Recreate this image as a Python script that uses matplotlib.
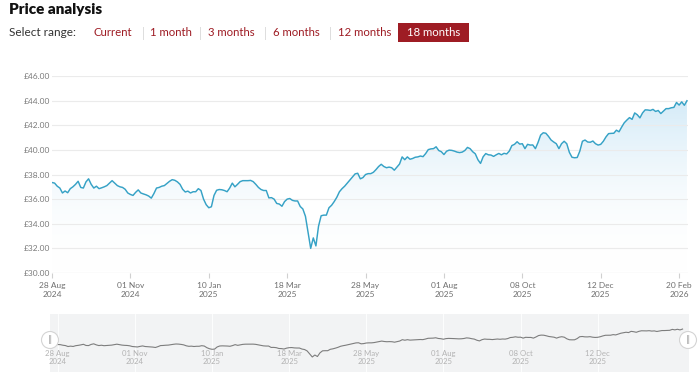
import numpy as np
import matplotlib
matplotlib.use('Agg')
import matplotlib.pyplot as plt
from matplotlib.ticker import FuncFormatter
from matplotlib.colors import LinearSegmentedColormap
from matplotlib.patches import Rectangle, Circle
from matplotlib.transforms import IdentityTransform

# closing price, one value per sample (30 samples between labelled dates)
prices = [
    37.35, 37.3, 37.05, 36.9, 36.5, 36.66, 36.52, 36.85, 37.0, 37.2,
    37.45, 36.95, 36.9, 37.4, 37.65, 37.2, 36.9, 37.05, 36.85, 36.92,
    37.0, 37.1, 37.3, 37.5, 37.3, 37.1, 37.0, 36.95, 36.8, 36.5,
    36.38, 36.3, 36.55, 36.75, 36.5, 36.42, 36.35, 36.25, 36.08, 36.45,
    36.9, 36.95, 37.05, 37.1, 37.28, 37.45, 37.58, 37.53, 37.4, 37.2,
    36.8, 36.58, 36.65, 36.5, 36.6, 36.6, 36.85, 36.7, 36.0, 35.55,
    35.3, 35.38, 36.3, 36.72, 36.78, 36.76, 36.7, 36.6, 36.9, 37.3,
    37.0, 37.2, 37.42, 37.5, 37.5, 37.5, 37.52, 37.42, 37.2, 36.95,
    36.78, 36.7, 36.7, 36.1, 36.12, 36.0, 35.65, 35.6, 35.42, 35.8,
    36.0, 36.05, 35.9, 35.85, 35.85, 35.4, 35.2, 34.6, 33.3, 32.0,
    32.85, 32.2, 33.8, 34.65, 34.7, 34.7, 35.3, 35.5, 35.8, 36.15,
    36.6, 36.85, 37.05, 37.3, 37.55, 37.8, 38.05, 38.1, 37.65, 37.75,
    38.0, 38.07, 38.07, 38.18, 38.4, 38.65, 38.83, 38.65, 38.55, 38.6,
    38.55, 38.35, 38.6, 38.85, 39.43, 39.2, 39.43, 39.24, 39.3, 39.4,
    39.43, 39.5, 39.45, 39.7, 40.02, 40.08, 40.1, 40.25, 39.95, 39.85,
    39.62, 39.89, 39.98, 39.96, 39.9, 39.82, 39.78, 39.82, 39.95, 40.2,
    40.1, 39.85, 39.68, 39.2, 38.9, 39.44, 39.7, 39.6, 39.58, 39.47,
    39.6, 39.71, 39.6, 39.72, 39.67, 39.9, 40.35, 40.45, 40.66, 40.47,
    40.5, 40.1, 40.45, 40.39, 40.4, 40.1, 40.6, 41.2, 41.39, 41.35,
    41.1, 40.8, 40.64, 40.5, 40.1, 40.5, 40.7, 40.5, 39.8, 39.4,
    39.36, 39.38, 39.9, 40.7, 40.8, 40.64, 40.62, 40.72, 40.5, 40.39,
    40.45, 40.7, 41.05, 41.32, 41.34, 41.35, 41.6, 41.47, 41.85, 42.2,
    42.42, 42.62, 42.48, 43.0, 42.85, 42.6, 43.0, 43.25, 43.24, 43.2,
    43.29, 43.12, 43.2, 42.95, 43.15, 43.35, 43.35, 43.42, 43.45, 43.85,
    43.64, 43.9, 43.62, 43.99,
]
tick_index = [0, 30, 60, 90, 120, 150, 180, 210, 240]
tick_labels = ['28 Aug\n2024', '01 Nov\n2024', '10 Jan\n2025', '18 Mar\n2025',
               '28 May\n2025', '01 Aug\n2025', '08 Oct\n2025', '12 Dec\n2025',
               '20 Feb\n2026']
y_ticks = [30, 32, 34, 36, 38, 40, 42, 44, 46]
range_buttons = ['Current', '1 month', '3 months', '6 months', '12 months']
active_button = '18 months'

plt.rcParams['font.family'] = ['Lato', 'DejaVu Sans']

W, H = 700, 384
fig = plt.figure(figsize=(W / 100, H / 100), dpi=100)

def box(l, t, r, b):
    return [l / W, 1 - b / H, (r - l) / W, (b - t) / H]

x = np.arange(len(prices))
line_col = '#36a2c6'
red = '#9e1c24'

# main chart
ax = fig.add_axes(box(52, 76, 688, 273))
cmap = LinearSegmentedColormap.from_list('fade', [(1, 1, 1, 0), (0.66, 0.84, 0.94, 0.64)])
grad = np.linspace(0, 1, 256).reshape(-1, 1)
im = ax.imshow(grad, extent=[0, x[-1], 30, 46], origin='lower', aspect='auto',
               cmap=cmap, zorder=1, interpolation='bilinear')
poly = ax.fill_between(x, prices, 30, color='none', lw=0)
im.set_clip_path(poly.get_paths()[0], transform=ax.transData)
ax.plot(x, prices, color=line_col, lw=1.05, zorder=3)

ax.set_xlim(0, 243.4)
ax.set_ylim(30, 46)
ax.set_yticks(y_ticks)
ax.yaxis.set_major_formatter(FuncFormatter(lambda v, p: '£%.2f' % v))
ax.set_xticks(tick_index)
ax.set_xticklabels(tick_labels, linespacing=1.25)
ax.grid(axis='y', color='#ebebeb', lw=0.8, zorder=0)
for s in ax.spines.values():
    s.set_visible(False)
ax.axhline(30, color='#dcdcdc', lw=0.8, zorder=2)
ax.tick_params(axis='y', length=0, pad=1.5, labelsize=6, labelcolor='#7a7a7a')
ax.tick_params(axis='x', length=3.5, width=0.8, color='#d0d0d0', pad=3,
               labelsize=6, labelcolor='#6f6f6f')

# navigator
nav = fig.add_axes(box(50, 314, 689, 372))
nav.add_patch(Rectangle((0, 0), 1, 1, transform=nav.transAxes, color='#f2f3f4', zorder=0))
nav.plot(x, prices, color='#7d7d7d', lw=0.8, zorder=2)
nav.set_xlim(-3, 245.5)
nav.set_ylim(25.56, 50.45)
nav.set_yticks([])
nav.set_xticks([])
for s in nav.spines.values():
    s.set_visible(False)
for i, lab in zip(tick_index[:-1], tick_labels[:-1]):
    nav.axvline(i, color='white', lw=0.6, zorder=1)
    nav.text(i, 0.385, lab, transform=nav.get_xaxis_transform(), ha='center', va='top',
             fontsize=5.6, color='#b3b3b3', linespacing=1.25, zorder=3)
for hx in (50, 688):
    fig.add_artist(Circle((hx, H - 340), 8.5, transform=IdentityTransform(),
                          facecolor='white', edgecolor='#d4d4d4', lw=0.8, zorder=5))
    fig.text(hx / W, 1 - 340 / H, '‖', ha='center', va='center', fontsize=6,
             color='#a8a8a8', family='DejaVu Sans', zorder=6)

# header and range selector
fig.text(9 / W, 1 - 10 / H, 'Price analysis', fontsize=11, fontweight='heavy',
         color='#111111', va='center', ha='left')
fig.text(9 / W, 1 - 33 / H, 'Select range:', fontsize=8.5, color='#333333',
         va='center', ha='left')
button_left = [93, 150, 208, 273, 338]
sep_x = [143, 200, 265, 330]
for bx, lab in zip(button_left, range_buttons):
    fig.text(bx / W, 1 - 33 / H, lab, fontsize=8.2, color=red, va='center', ha='left')
for sx in sep_x:
    fig.add_artist(plt.Line2D([sx / W, sx / W], [1 - 27 / H, 1 - 39 / H],
                              color='#dddddd', lw=0.7))
fig.add_artist(Rectangle((398 / W, 1 - 42 / H), 71 / W, 19 / H, facecolor=red,
                         edgecolor='none', transform=fig.transFigure))
fig.text(433.5 / W, 1 - 33 / H, active_button, fontsize=8.2, color='white',
         va='center', ha='center')

fig.savefig('out.png', dpi=100)
